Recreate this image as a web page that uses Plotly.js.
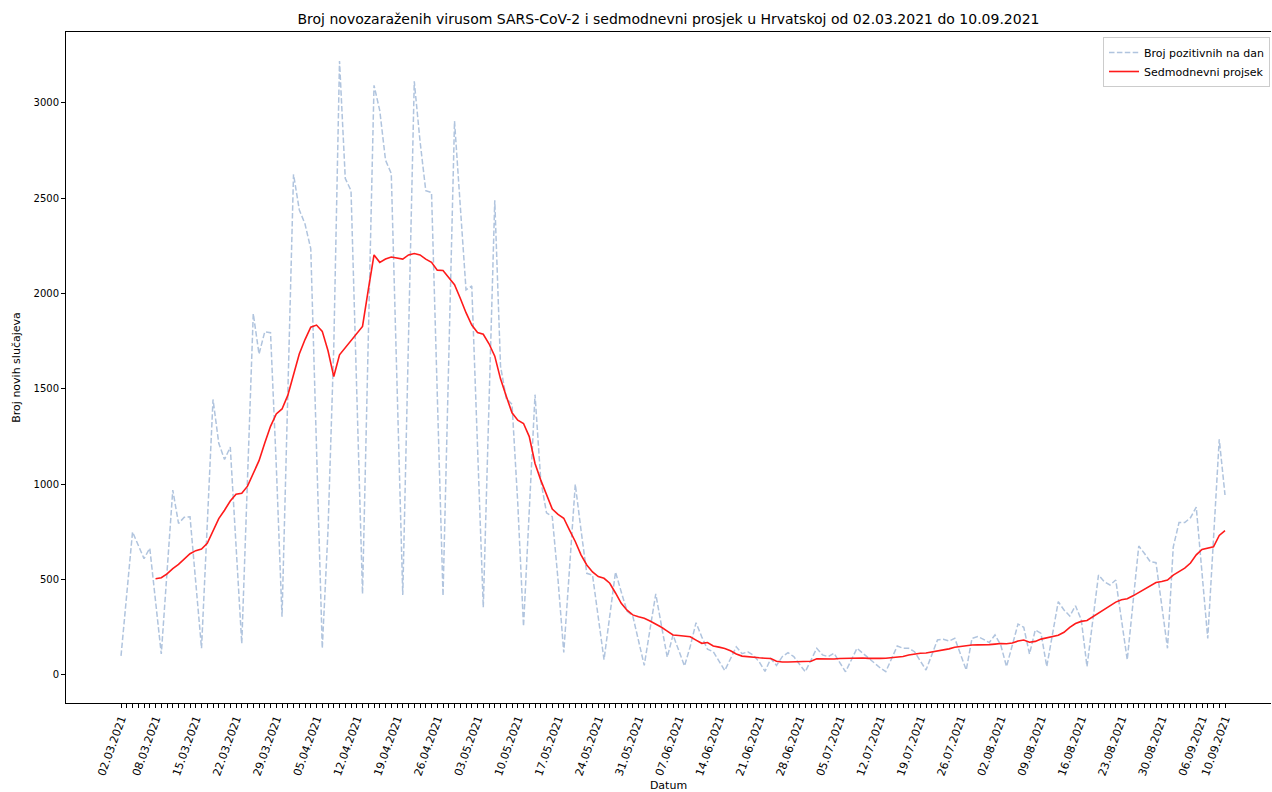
<!DOCTYPE html>
<html>
<head>
<meta charset="utf-8">
<script src="https://cdn.plot.ly/plotly-3.0.1.min.js"></script>
<style>html,body{margin:0;padding:0;background:#fff;}#chart{width:1272px;height:792px;}</style>
</head>
<body>
<div id="chart"></div>
<script>
// Daily new cases, 02.03.2021 ... 10.09.2021 (193 days)
const startDate = '2021-03-02';
const dailyCases = [
  100,420,750,680,610,665,390, 110,540,970,795,827,830,480,
  140,790,1445,1215,1130,1195,700, 165,1030,1895,1683,1800,1795,1100,
  305,1450,2626,2440,2365,2235,1250, 140,760,1720,3220,2604,2540,1480,
  425,1760,3092,2960,2700,2630,1530, 420,1770,3113,2800,2540,2530,1470,
  415,1660,2905,2460,2020,2040,1200, 355,1425,2489,1620,1450,1420,900,
  255,880,1470,1020,850,830,500, 118,560,1000,760,533,524,300,
  80,310,540,435,335,310,180, 50,240,425,257,93,210,130,
  47,150,274,200,135,122,70, 23,85,148,112,121,103,68,
  19,86,50,96,117,96,56, 17,78,140,105,96,114,65,
  17,78,140,114,87,60,38, 17,85,152,140,140,122,74,
  26,105,184,187,178,192,109, 26,192,201,187,170,210,157,
  44,155,267,250,110,236,218, 44,214,384,341,309,363,290,
  44,284,524,489,472,498,290, 79,378,676,637,594,589,365,
  140,671,799,799,825,880,536, 192,714,1236,944
];
// Seven-day average as drawn (starts on the 7th day)
const weeklyAverage = [
  null,null,null,null,null,null,
  505,510,530,558,580,608,636,652,660,690,755,820,864,912,948,953,990,1055,
  1124,1217,1304,1369,1395,1466,1575,1683,1759,1824,1835,1802,1700,1565,1679,1716,
  1759,1791,1828,2019,2203,2164,2181,2192,2186,2181,2203,2210,2203,2181,2164,2123,
  2121,2084,2047,1976,1900,1835,1796,1787,1737,1672,1553,1462,1375,1336,1319,1250,
  1109,1022,942,870,842,822,760,700,630,577,540,516,507,481,430,376,
  340,315,305,297,283,268,250,230,210,207,205,200,183,166,170,152,
  146,139,127,110,99,95,92,90,88,86,72,68,68,69,69,70,
  72,85,84,82,84,86,87,88,90,89,87,86,87,88,90,92,
  97,105,110,114,115,120,126,132,137,145,150,152,157,158,158,159,
  162,165,164,168,178,183,172,176,188,194,200,208,224,250,270,281,
  286,306,326,346,364,382,394,400,415,432,450,468,485,490,498,524,
  540,560,587,630,658,665,672,732,757
];
const labelDates = ['2021-03-02','2021-03-08','2021-03-15','2021-03-22','2021-03-29','2021-04-05',
  '2021-04-12','2021-04-19','2021-04-26','2021-05-03','2021-05-10','2021-05-17','2021-05-24',
  '2021-05-31','2021-06-07','2021-06-14','2021-06-21','2021-06-28','2021-07-05','2021-07-12',
  '2021-07-19','2021-07-26','2021-08-02','2021-08-09','2021-08-16','2021-08-23','2021-08-30',
  '2021-09-06','2021-09-10'];
const yTicks = [0,500,1000,1500,2000,2500,3000];

const DAY = 86400000;
const t0 = Date.parse(startDate + 'T00:00:00Z');
function iso(ms){ return new Date(ms).toISOString().slice(0,19).replace('T',' '); }
const dates = dailyCases.map((_, i) => iso(t0 + i*DAY).slice(0,10));
const labelText = labelDates.map(d => d.slice(8,10) + '.' + d.slice(5,7) + '.' + d.slice(0,4));

const font = 'DejaVu Sans, sans-serif';

const traces = [
  {x: dates, y: dailyCases, type: 'scatter', mode: 'lines', name: 'Broj pozitivnih na dan',
   line: {color: '#b0c4de', width: 1.5, dash: '5.5px,2.4px'}},
  {x: dates, y: weeklyAverage, type: 'scatter', mode: 'lines', name: 'Sedmodnevni projsek',
   line: {color: '#ff1a1a', width: 1.6}, connectgaps: false}
];

const layout = {
  width: 1272, height: 792,
  margin: {l: 66, r: 1, t: 32, b: 89},
  paper_bgcolor: '#fff', plot_bgcolor: '#fff',
  font: {family: font, size: 10, color: '#000'},
  title: {text: 'Broj novozaraženih virusom SARS-CoV-2 i sedmodnevni prosjek u Hrvatskoj od 02.03.2021 do 10.09.2021',
          font: {family: font, size: 14, color: '#000'}, x: 0.5, xanchor: 'center', xref: 'paper',
          y: 1 - 19/792, yanchor: 'middle', yref: 'container'},
  xaxis: {
    type: 'date',
    range: [iso(t0 - 9.57*DAY), iso(t0 + 200*DAY)],
    tickmode: 'array', tickvals: labelDates, ticktext: labelText,
    tickangle: -70, tickfont: {family: font, size: 11, color: '#000'},
    ticks: 'outside', ticklen: 4, tickwidth: 1, tickcolor: '#000',
    minor: {tickmode: 'array', tickvals: dates, ticks: 'outside', ticklen: 4, tickwidth: 1, tickcolor: '#000', showgrid: false},
    showgrid: false, zeroline: false,
    showline: true, linecolor: '#000', linewidth: 1, mirror: true,
    title: {text: 'Datum', font: {family: font, size: 11, color: '#000'}, standoff: 10},
    automargin: false
  },
  yaxis: {
    range: [-147, 3372],
    tickmode: 'array', tickvals: yTicks,
    tickfont: {family: font, size: 10, color: '#000'},
    ticks: 'outside', ticklen: 4, tickwidth: 1, tickcolor: '#000',
    showgrid: false, zeroline: false,
    showline: true, linecolor: '#000', linewidth: 1, mirror: false,
    title: {text: 'Broj novih slučajeva', font: {family: font, size: 11, color: '#000'}, standoff: 10},
    automargin: false
  },
  showlegend: true,
  legend: {x: (1270-66)/(1271-66), xanchor: 'right', y: (703-37)/671, yanchor: 'top',
           bgcolor: '#fff', bordercolor: '#cccccc', borderwidth: 1,
           font: {family: font, size: 11, color: '#000'}, tracegroupgap: 0}
};

Plotly.newPlot('chart', traces, layout, {displayModeBar: false, staticPlot: true});
</script>
</body>
</html>
